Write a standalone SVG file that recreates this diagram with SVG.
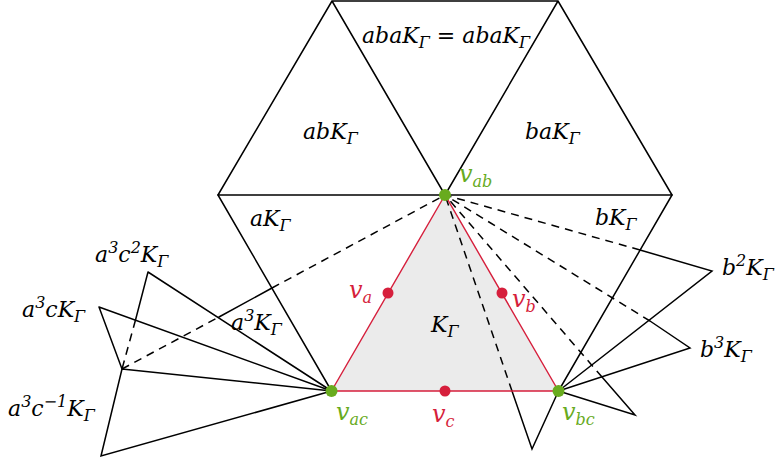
<svg xmlns="http://www.w3.org/2000/svg" width="777" height="463" viewBox="0 0 777 463">
<style>
.s{stroke:#000;stroke-width:1.5;fill:none;stroke-linecap:round}
.d{stroke:#000;stroke-width:1.5;fill:none;stroke-dasharray:8 6}
.r{stroke:#d61f3c;stroke-width:1.4;fill:none}
.t{font-family:"DejaVu Serif","Liberation Serif",serif;font-style:italic;font-size:22px;fill:#000}
.red{fill:#d61f3c}
.grn{fill:#68ab1e}
.sub{font-size:16px}
.v{font-size:24px}
</style>
<rect width="777" height="463" fill="#fff"/>
<polygon points="445,195 331.5,391 558.5,391" fill="#ebebeb"/>
<g id="connectors">
<g id="hexagon">
<path class="s" d="M332,1 L558,1 M332,1 L218,195 M558,1 L672,195 M332,1 L445,195 M558,1 L445,195 M218,195 L672,195"/>
</g>
<g id="aK"><path class="s" d="M218,195 L331.5,391"/></g>
<g id="bK"><path class="s" d="M672,195 L558.5,391"/></g>
<g id="a3c2K">
<path class="s" d="M148,272 L331.5,391 M148,272 L135.5,320"/>
<path class="d" d="M135.5,320 L122,369"/>
</g>
<g id="a3cK"><path class="s" d="M99,307 L331.5,391 M99,307 L122,369"/></g>
<g id="a3c-1K"><path class="s" d="M122,369 L331.5,391 M122,369 L101,456 L331.5,391"/></g>
<g id="a3K">
<path class="d" d="M122,369 L219,317"/>
<path class="s" d="M219,317 L272,288"/>
<path class="d" d="M272,288 L445,195"/>
</g>
<g id="b2K">
<path class="s" d="M558.5,391 L712,271 L640,250"/>
<path class="d" d="M640,250 L445,195"/>
</g>
<g id="b3K">
<path class="s" d="M558.5,391 L690,348 L650,321"/>
<path class="d" d="M650,321 L445,195"/>
</g>
<g id="b4K">
<path class="s" d="M558.5,391 L635,415 L602,377"/>
<path class="d" d="M602,377 L445,195"/>
</g>
<g id="b5K">
<path class="s" d="M558.5,391 L532,449 L512,391"/>
<path class="d" d="M512,391 L445,195"/>
</g>
</g>
<g id="KGamma">
<polygon class="r" points="445,195 331.5,391 558.5,391"/>
<text class="t" x="431" y="332">K<tspan class="sub" dy="5">Γ</tspan></text>
</g>
<g id="va"><circle class="red" cx="388" cy="293" r="5.5"/><text class="t v red" x="349" y="298">v<tspan class="sub" dy="5">a</tspan></text></g>
<g id="vb"><circle class="red" cx="502" cy="293" r="5.5"/><text class="t v red" x="512" y="307">v<tspan class="sub" dy="5">b</tspan></text></g>
<g id="vc"><circle class="red" cx="445" cy="391" r="5.5"/><text class="t v red" x="432" y="422">v<tspan class="sub" dy="5">c</tspan></text></g>
<g id="vab"><circle class="grn" cx="445" cy="195" r="6"/><text class="t v grn" x="459" y="182">v<tspan class="sub" dy="5">ab</tspan></text></g>
<g id="vac"><circle class="grn" cx="331.5" cy="391" r="6"/><text class="t v grn" x="336" y="420">v<tspan class="sub" dy="5">ac</tspan></text></g>
<g id="vbc"><circle class="grn" cx="558.5" cy="391" r="6"/><text class="t v grn" x="562" y="420">v<tspan class="sub" dy="5">bc</tspan></text></g>
<g id="labels">
<text class="t" x="362" y="43">abaK<tspan class="sub" dy="5">Γ</tspan><tspan dy="-5"> = abaK</tspan><tspan class="sub" dy="5">Γ</tspan></text>
<text class="t" x="303" y="139">abK<tspan class="sub" dy="5">Γ</tspan></text>
<text class="t" x="525" y="139">baK<tspan class="sub" dy="5">Γ</tspan></text>
<text class="t" x="250" y="226">aK<tspan class="sub" dy="5">Γ</tspan></text>
<text class="t" x="595" y="225">bK<tspan class="sub" dy="5">Γ</tspan></text>
<text class="t" x="95" y="262">a<tspan class="sub" dy="-9">3</tspan><tspan dy="9">c</tspan><tspan class="sub" dy="-9">2</tspan><tspan dy="9">K</tspan><tspan class="sub" dy="5">Γ</tspan></text>
<text class="t" x="22" y="317">a<tspan class="sub" dy="-9">3</tspan><tspan dy="9">cK</tspan><tspan class="sub" dy="5">Γ</tspan></text>
<text class="t" x="231" y="330">a<tspan class="sub" dy="-9">3</tspan><tspan dy="9">K</tspan><tspan class="sub" dy="5">Γ</tspan></text>
<text class="t" x="8" y="416">a<tspan class="sub" dy="-9">3</tspan><tspan dy="9">c</tspan><tspan class="sub" dy="-9">−1</tspan><tspan dy="9">K</tspan><tspan class="sub" dy="5">Γ</tspan></text>
<text class="t" x="722" y="275">b<tspan class="sub" dy="-9">2</tspan><tspan dy="9">K</tspan><tspan class="sub" dy="5">Γ</tspan></text>
<text class="t" x="700" y="357">b<tspan class="sub" dy="-9">3</tspan><tspan dy="9">K</tspan><tspan class="sub" dy="5">Γ</tspan></text>
</g>
</svg>
